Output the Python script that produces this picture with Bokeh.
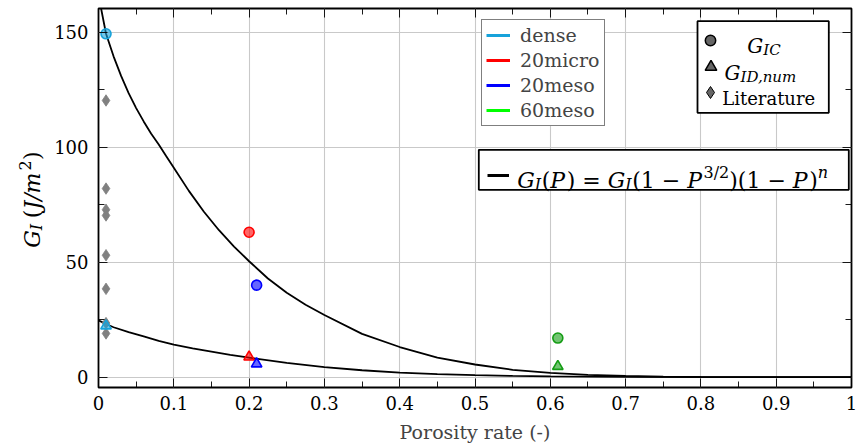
import math
from bokeh.plotting import figure
from bokeh.layouts import row
from bokeh.models import (FixedTicker, LinearAxis, Legend, LegendItem,
                          BoxAnnotation, Label, Range1d)
from bokeh.embed import file_html
from bokeh.resources import INLINE

# ---------------- data ----------------
categories = ["dense", "20micro", "20meso", "60meso"]
porosity = [0.01, 0.20, 0.21, 0.61]
g_ic = [149.3, 63.0, 40.0, 17.0]
g_id_num = [22.3, 8.8, 5.8, 4.7]
legend_colors = ["#17A2DA", "#FF0000", "#0000FF", "#00FF00"]
marker_colors = ["#17A2DA", "#FF0000", "#0000FF", "#149C14"]

lit_porosity = [0.01, 0.01, 0.01, 0.01, 0.01, 0.01, 0.01, 0.01]
lit_g = [120.3, 82.0, 72.8, 70.3, 53.0, 38.4, 23.5, 19.0]

fit_ic_p = [0.0, 0.0035, 0.01, 0.02, 0.03, 0.04, 0.05, 0.06, 0.07, 0.08, 0.09,
            0.10, 0.12, 0.14, 0.16, 0.18, 0.20, 0.225, 0.25, 0.275, 0.30, 0.35,
            0.40, 0.45, 0.50, 0.55, 0.60, 0.65, 0.70, 0.75, 0.80, 0.90, 1.00]
fit_ic_g = [166.0, 160.2, 149.3, 139.5, 131.0, 123.5, 117.0, 111.2, 105.8, 101.2, 96.1,
            91.1, 81.0, 71.9, 63.9, 56.8, 50.4, 42.9, 36.7, 31.5, 27.0, 18.8,
            13.1, 8.5, 5.5, 3.2, 1.9, 1.0, 0.5, 0.2, 0.08, 0.01, 0.0]

fit_id_p = [0.0, 0.01, 0.02, 0.04, 0.06, 0.08, 0.10, 0.125, 0.15, 0.175, 0.20,
            0.25, 0.30, 0.35, 0.40, 0.45, 0.50, 0.55, 0.60, 0.70, 0.80, 0.90, 1.00]
fit_id_g = [24.7, 23.1, 21.7, 19.6, 17.7, 15.8, 14.1, 12.5, 11.1, 9.7, 8.5,
            6.2, 4.4, 3.0, 2.0, 1.3, 0.85, 0.52, 0.3, 0.08, 0.015, 0.0, 0.0]

x_ticks = [0.0, 0.1, 0.2, 0.3, 0.4, 0.5, 0.6, 0.7, 0.8, 0.9, 1.0]
x_tick_labels = ["0", "0.1", "0.2", "0.3", "0.4", "0.5", "0.6", "0.7", "0.8", "0.9", "1"]
x_minor = [0.05, 0.15, 0.25, 0.35, 0.45, 0.55, 0.65, 0.75, 0.85, 0.95]
y_ticks = [0, 50, 100, 150]
y_minor = [25, 75, 125]

# ---------------- layout constants ----------------
LW = 50            # width of the strip holding the y-axis title
H = 448
FL, FB, FT = 98, 387, 8   # main frame left / bottom / top, canvas pixels
SERIF = "DejaVu Serif"

# approximate advance widths (em) used to chain the pieces of math text
W_REG = {"(": .390, ")": .390, "=": .838, "\u2212": .838, "1": .636, "2": .636,
         "3": .636, "/": .337, " ": .318}
W_ITA = {"G": .775, "I": .372, "C": .735, "D": .795, ",": .318, "n": .644, "u": .644,
         "m": .948, "P": .676, "J": .468, "/": .337}


def text_width(s, size, italic):
    table = W_ITA if italic else W_REG
    return sum(table.get(ch, .6) for ch in s) * size


# ---------------- main figure ----------------
p = figure(width=858 - LW, height=H, x_range=Range1d(0, 1), y_range=Range1d(-4.5, 160.3),
           output_backend="svg", toolbar_location=None,
           min_border_left=FL - LW, min_border_right=7, min_border_top=FT,
           min_border_bottom=H - FB, x_axis_label="Porosity rate (-)")
p.background_fill_color = "white"
p.border_fill_color = "white"
p.outline_line_color = "black"
p.outline_line_width = 1.8

xt = FixedTicker(ticks=x_ticks, minor_ticks=x_minor)
yt = FixedTicker(ticks=y_ticks, minor_ticks=y_minor)


def style_axis(ax, ticker, labels):
    ax.ticker = ticker
    ax.axis_line_color = None
    ax.major_tick_in = 9
    ax.major_tick_out = 0
    ax.minor_tick_in = 6
    ax.minor_tick_out = 0
    ax.major_tick_line_color = "black"
    ax.minor_tick_line_color = "black"
    ax.major_tick_line_width = 0.9
    ax.minor_tick_line_width = 0.9
    if labels:
        ax.major_label_text_font = SERIF
        ax.major_label_text_font_size = "18px"
        ax.major_label_text_color = "black"
    else:
        ax.major_label_text_font_size = "0px"
        ax.major_label_text_color = None
        ax.major_label_standoff = 0


for ax in p.xaxis:
    style_axis(ax, xt, True)
    ax.major_label_standoff = 8
    ax.major_label_overrides = {t: l for t, l in zip(x_ticks, x_tick_labels)}
    ax.axis_label_text_font = SERIF
    ax.axis_label_text_font_size = "19px"
    ax.axis_label_text_font_style = "normal"
    ax.axis_label_standoff = 8
for ax in p.yaxis:
    style_axis(ax, yt, True)
    ax.major_label_standoff = 10

top_ax = LinearAxis()
style_axis(top_ax, xt, False)
p.add_layout(top_ax, "above")
right_ax = LinearAxis()
style_axis(right_ax, yt, False)
p.add_layout(right_ax, "right")

p.xgrid.ticker = xt
p.ygrid.ticker = yt
p.grid.grid_line_color = "#c9c9c9"
p.grid.grid_line_width = 1.1

# ---------------- curves and points ----------------
p.line(fit_ic_p, fit_ic_g, line_color="black", line_width=1.8)
p.line(fit_id_p, fit_id_g, line_color="black", line_width=1.8)

p.scatter(lit_porosity, lit_g, marker="diamond", size=11.5,
          fill_color="#808080", line_color="#808080", line_width=0.8)

for i, cat in enumerate(categories):
    c = marker_colors[i]
    p.scatter([porosity[i]], [g_ic[i]], marker="circle", size=10,
              fill_color=c, fill_alpha=0.6, line_color=c, line_width=1.6)
    p.scatter([porosity[i]], [g_id_num[i]], marker="triangle", size=10.5,
              fill_color=c, fill_alpha=0.6, line_color=c, line_width=1.6)

NAN = float("nan")

# ---------------- legend 1 : materials ----------------
leg_lines = [p.line(x=[NAN], y=[NAN], line_color=c, line_width=3) for c in legend_colors]
legend1 = Legend(items=[LegendItem(label=cat, renderers=[r]) for cat, r in zip(categories, leg_lines)],
                 location=(481 - FL, FB - 125.7), padding=4, spacing=3,
                 glyph_width=24, glyph_height=22, label_height=22, label_width=80,
                 label_standoff=10, label_text_font=SERIF, label_text_font_size="19px",
                 border_line_color="black", border_line_width=1.8,
                 background_fill_color="white", background_fill_alpha=1.0, margin=0)
p.add_layout(legend1)


def screen_box(left, top, right, bottom):
    return BoxAnnotation(left=left - FL, right=right - FL, top=FB - top, bottom=FB - bottom,
                         left_units="screen", right_units="screen",
                         top_units="screen", bottom_units="screen",
                         fill_color="white", fill_alpha=1.0,
                         line_color="black", line_width=1.8, line_alpha=1.0)


def symbol_legend(renderer, cx, cy, box):
    """A borderless one-item legend whose glyph square (side `box`) is centred on (cx, cy)."""
    lg = Legend(items=[LegendItem(label=" ", renderers=[renderer])],
                location=(cx - box / 2 - FL, FB - (cy + box / 2)), padding=0, spacing=0,
                glyph_width=box, glyph_height=box, label_height=box, label_width=1,
                label_standoff=0, label_text_font_size="10px",
                border_line_color=None, background_fill_color=None, margin=0)
    p.add_layout(lg)


# ---------------- legend 2 : marker types ----------------
p.add_layout(screen_box(697, 20.7, 828.3, 112.3))
r_circ = p.scatter(x=[NAN], y=[NAN], marker="circle", fill_color="black", fill_alpha=0.6,
                   line_color="black", line_width=1.5)
r_tri = p.scatter(x=[NAN], y=[NAN], marker="triangle", fill_color="black", fill_alpha=0.6,
                  line_color="black", line_width=1.5)
r_dia = p.scatter(x=[NAN], y=[NAN], marker="diamond", fill_color="black", fill_alpha=0.6,
                  line_color="black", line_width=1.0)
symbol_legend(r_circ, 710.0, 40.0, 26)
symbol_legend(r_tri, 710.0, 66.5, 29)
symbol_legend(r_dia, 710.0, 92.3, 30)

# ---------------- legend 3 : model ----------------
p.add_layout(screen_box(478.3, 149.3, 848.3, 189.3))
r_model = p.line(x=[NAN], y=[NAN], line_color="black", line_width=3)
legend3 = Legend(items=[LegendItem(label=" ", renderers=[r_model])],
                 location=(486.7 - FL, FB - 185), padding=0, spacing=0,
                 glyph_width=22, glyph_height=20, label_height=20, label_width=1,
                 label_standoff=0, label_text_font_size="10px",
                 border_line_color=None, background_fill_color=None, margin=0)
p.add_layout(legend3)


# ---------------- rich text helpers ----------------
def main_label(s, px, py, size, italic):
    p.add_layout(Label(x=px - FL, y=FB - py, x_units="screen", y_units="screen", text=s,
                       text_font=SERIF, text_font_size=f"{size}px",
                       text_font_style="italic" if italic else "normal",
                       text_baseline="alphabetic", text_align="left", text_color="black"))


def flow(pieces, x0, base):
    """pieces: (text, size, italic, baseline shift (+down), extra gap after)"""
    x = x0
    for s, size, italic, dy, gap in pieces:
        main_label(s, x, base + dy, size, italic)
        x += text_width(s, size, italic) + gap


# legend 2 labels
flow([("G", 20, True, 0, 0.5), ("IC", 15, True, 4, 0)], 746.7, 45.7)
flow([("G", 20, True, 0, 0.5), ("ID,num", 15, True, 4, 0)], 724.0, 72.3)
main_label("Literature", 721.7, 97.7, 18, False)

# legend 3 formula  G_I(P) = G_I(1 - P^{3/2})(1 - P)^n
S, s = 22, 16
flow([("G", S, True, 0, 0.5), ("I", s, True, 4, 1.0), ("(", S, False, 0, 0),
      ("P", S, True, 0, 1.5), (") = ", S, False, 0, 0),
      ("G", S, True, 0, 0.5), ("I", s, True, 4, 1.0), ("(1 \u2212 ", S, False, 0, 0),
      ("P", S, True, 0, 1.5), ("3/2", s, False, -8, 0), (")(1 \u2212 ", S, False, 0, 0),
      ("P", S, True, 0, 1.5), (")", S, False, 0, 0), ("n", s, True, -8, 0)],
     516.7, 180.0)

# ---------------- y-axis title strip ----------------
# the row layout aligns this strip's frame with the main frame (canvas rows FT..FB),
# so its y range is expressed in "pixels from the bottom of the canvas".
lf = figure(width=LW, height=H, x_range=Range1d(0, LW), y_range=Range1d(H - FB, H - FT),
            output_backend="svg", toolbar_location=None, title=None,
            x_axis_location=None, y_axis_location=None,
            min_border=0, min_border_left=0, min_border_right=0,
            min_border_top=FT, min_border_bottom=H - FB)
lf.outline_line_color = None
lf.grid.visible = False
lf.background_fill_color = "white"
lf.border_fill_color = "white"


def strip_label(s, bx, py, size, italic):
    lf.add_layout(Label(x=bx, y=H - py, text=s, text_font=SERIF, text_font_size=f"{size}px",
                        text_font_style="italic" if italic else "normal",
                        text_baseline="alphabetic", text_align="left",
                        angle=math.pi / 2, text_color="black"))


y_pieces = [("G", 22, True, 0, 0.5), ("I", 16, True, 4, 6.0), ("(", 22, False, 0, 0),
            ("J/m", 22, True, 0, 0.5), ("2", 16, False, -8, 0.5), (")", 22, False, 0, 0)]
total = sum(text_width(t, sz, it) + g for t, sz, it, dy, g in y_pieces)
yy = 199 + total / 2
for t, sz, it, dy, g in y_pieces:
    strip_label(t, 32.0 + dy, yy, sz, it)
    yy -= text_width(t, sz, it) + g

layout = row(lf, p)
open("out.html", "w").write(file_html(layout, INLINE))
